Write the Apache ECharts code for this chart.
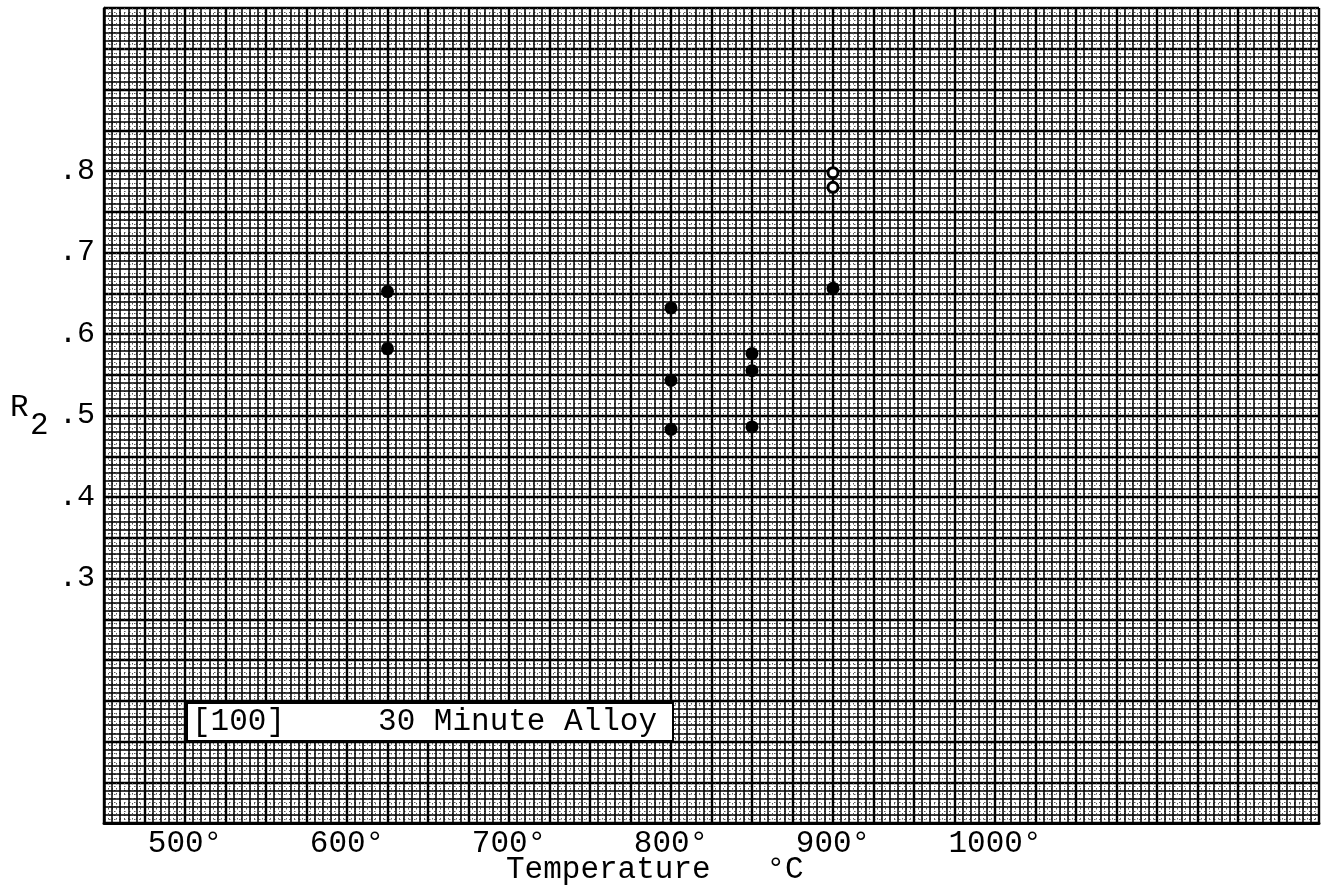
<!DOCTYPE html>
<html>
<head>
<meta charset="utf-8">
<script src="https://cdn.jsdelivr.net/npm/echarts@6/dist/echarts.min.js"></script>
<style>
	html, body { margin: 0; padding: 0; background: #fff; }
	#chart { width: 1322px; height: 894px; }
</style>
</head>
<body>
<div id="chart"></div>
<script>
// readings off the graph paper
const xTicks = [500, 600, 700, 800, 900, 1000];
const yTicks = [0.3, 0.4, 0.5, 0.6, 0.7, 0.8];
const filledTemp = [625, 625, 800, 800, 800, 850, 850, 850, 900];
const filledR2 = [0.652, 0.582, 0.632, 0.543, 0.483, 0.576, 0.555, 0.486, 0.656];
const openTemp = [900, 900];
const openR2 = [0.798, 0.780];

const font = "'Liberation Mono', 'DejaVu Sans Mono', monospace";

let filledData = filledTemp.map((t, i) => [t, filledR2[i]]);
let openData = openTemp.map((t, i) => [t, openR2[i]]);

let fineLine = { color: "#000", width: 1.5 };
let dotLine = { color: "#555", width: 1, type: [1.5, 3.5] };

let myChart = echarts.init(document.getElementById("chart"));
let option = {
	backgroundColor: "#fff",
	animation: false,
	grid: {
		left: 104,
		right: -3,
		top: 8,
		bottom: 71
	},
	xAxis: [
		{
			// dotted half-divisions
			type: "value",
			position: "top",
			min: 450,
			max: 1200,
			interval: 25,
			axisLine: { show: true, lineStyle: { color: "#000", width: 2 } },
			axisTick: { show: false },
			axisLabel: { show: false },
			splitLine: { show: false },
			minorTick: { show: false, splitNumber: 10 },
			minorSplitLine: { show: true, lineStyle: dotLine }
		},
		{
			type: "value",
			position: "bottom",
			min: 450,
			max: 1200,
			interval: 25,
			axisLine: { show: true, onZero: false, lineStyle: { color: "#000", width: 3 } },
			axisTick: { show: false },
			axisLabel: {
				margin: 5,
				color: "#000",
				fontFamily: font,
				fontSize: 31,
				formatter: function (v) {
					return xTicks.indexOf(v) > -1 ? v + "°" : "";
				}
			},
			splitLine: { show: true, lineStyle: { color: "#000", width: 2.4 } },
			minorTick: { show: false, splitNumber: 5 },
			minorSplitLine: { show: true, lineStyle: fineLine }
		}
	],
	yAxis: [
		{
			type: "value",
			position: "right",
			min: 0,
			max: 1,
			interval: 0.05,
			axisLine: { show: false },
			axisTick: { show: false },
			axisLabel: { show: false },
			splitLine: { show: false },
			minorTick: { show: false, splitNumber: 10 },
			minorSplitLine: { show: true, lineStyle: dotLine }
		},
		{
			type: "value",
			position: "left",
			min: 0,
			max: 1,
			interval: 0.05,
			axisLine: { show: true, onZero: false, lineStyle: { color: "#000", width: 2.5 } },
			axisTick: { show: false },
			axisLabel: {
				margin: 9,
				color: "#000",
				fontFamily: font,
				fontSize: 30,
				formatter: function (v) {
					let hit = yTicks.some((t) => Math.abs(t - v) < 1e-6);
					return hit ? "." + Math.round(v * 10) : "";
				}
			},
			splitLine: { show: true, lineStyle: { color: "#000", width: 2.4 } },
			minorTick: { show: false, splitNumber: 5 },
			minorSplitLine: { show: true, lineStyle: fineLine }
		}
	],
	graphic: [
		{
			type: "rect",
			z: 100,
			shape: { x: 187, y: 703, width: 486, height: 38 },
			style: { fill: "#fff", stroke: "#000", lineWidth: 2 }
		},
		{
			type: "text",
			z: 101,
			x: 192,
			y: 722,
			style: {
				text: "[100]     30 Minute Alloy",
				font: "31px " + font,
				fill: "#000",
				verticalAlign: "middle"
			}
		},
		{
			type: "text",
			x: 506,
			y: 870,
			style: {
				text: "Temperature   °C",
				font: "31px " + font,
				fill: "#000",
				verticalAlign: "middle"
			}
		},
		{
			type: "text",
			x: 10,
			y: 408,
			style: { text: "R", font: "31px " + font, fill: "#000", verticalAlign: "middle" }
		},
		{
			type: "text",
			x: 30,
			y: 426,
			style: { text: "2", font: "31px " + font, fill: "#000", verticalAlign: "middle" }
		}
	],
	series: [
		{
			type: "scatter",
			xAxisIndex: 1,
			yAxisIndex: 1,
			symbol: "circle",
			symbolSize: 13,
			itemStyle: { color: "#000", opacity: 1 },
			data: filledData,
			z: 10
		},
		{
			type: "scatter",
			xAxisIndex: 1,
			yAxisIndex: 1,
			symbol: "circle",
			symbolSize: 10,
			itemStyle: { color: "#fff", borderColor: "#000", borderWidth: 3, opacity: 1 },
			data: openData,
			z: 10
		}
	]
};
myChart.setOption(option);
</script>
</body>
</html>
